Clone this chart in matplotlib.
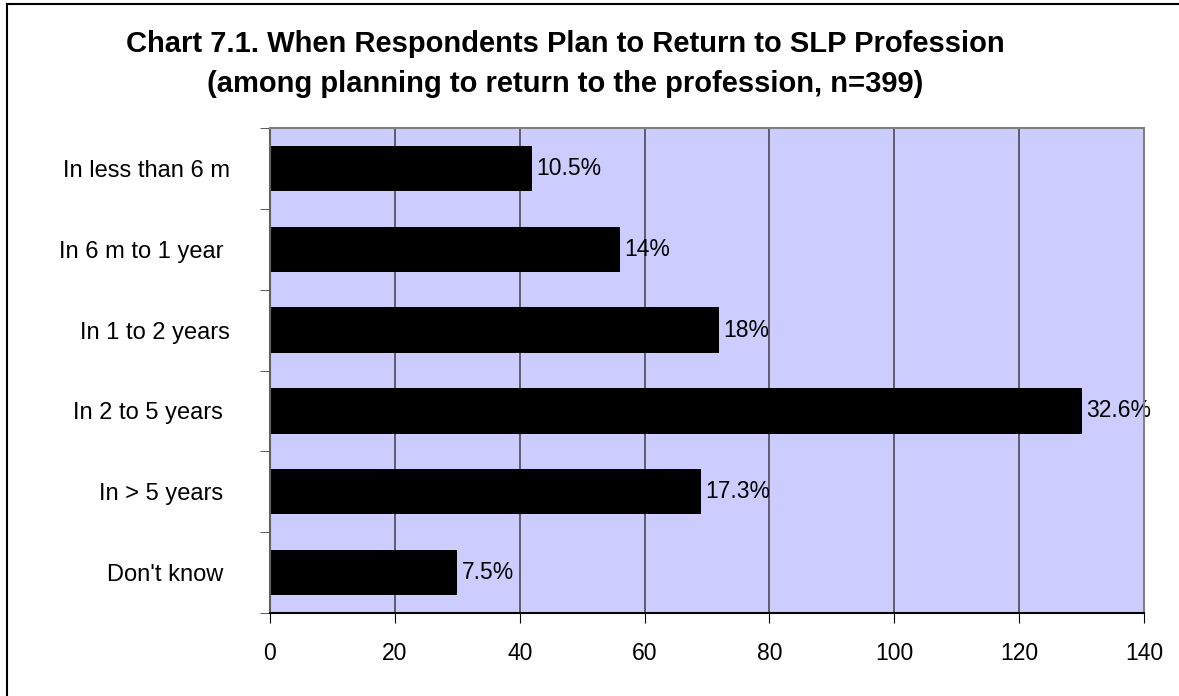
import matplotlib.pyplot as plt
from matplotlib.lines import Line2D

plt.rcParams['font.family'] = ['Liberation Sans', 'DejaVu Sans']

categories = ["In less than 6 m", "In 6 m to 1 year ", "In 1 to 2 years",
              "In 2 to 5 years ", "In > 5 years ", "Don't know "]
counts = [42, 56, 72, 130, 69, 30]
pct_labels = ["10.5%", "14%", "18%", "32.6%", "17.3%", "7.5%"]
xticks = [0, 20, 40, 60, 80, 100, 120, 140]

W, H = 1179, 696
fig = plt.figure(figsize=(W / 100, H / 100), dpi=100)
ax = fig.add_axes([270 / W, (H - 613) / H, (1144 - 270) / W, (613 - 128) / H])
ax.set_facecolor('#ccccff')

ypos = list(range(len(categories)))
ax.barh(ypos, counts, height=0.56, color='black', zorder=3)
for y, c, lab in zip(ypos, counts, pct_labels):
    ax.annotate(lab, (c, y), xytext=(3, 0), textcoords='offset points',
                va='center', ha='left', fontsize=16.5, zorder=4)

ax.set_xlim(0, 140)
ax.set_ylim(len(categories) - 0.5, -0.5)
ax.set_xticks(xticks)
ax.set_xticklabels([str(t) for t in xticks], fontsize=16.5)
ax.set_yticks(ypos)
ax.set_yticklabels(categories, fontsize=17)
ax.set_yticks([i - 0.5 for i in range(len(categories) + 1)], minor=True)
ax.tick_params(axis='y', which='major', length=0, pad=29)
ax.tick_params(axis='y', which='minor', length=7, direction='out', color='#404040')
ax.tick_params(axis='x', length=7, direction='out', pad=14, color='black')

for x in xticks[1:-1]:
    ax.axvline(x, color='#404040', lw=1.1, zorder=2)

ax.spines['top'].set_color('#808080')
ax.spines['right'].set_color('#808080')
ax.spines['left'].set_color('#606060')
ax.spines['bottom'].set_color('black')
for s in ax.spines.values():
    s.set_linewidth(1.5)
    s.set_zorder(5)

fig.text(565 / W, 1 - 52 / H, "Chart 7.1. When Respondents Plan to Return to SLP Profession",
         ha='center', va='baseline', fontsize=21, fontweight='bold')
fig.text(565 / W, 1 - 92 / H, "(among planning to return to the profession, n=399)",
         ha='center', va='baseline', fontsize=21, fontweight='bold')

# outer frame lines along the top and left edges
fig.add_artist(Line2D([7 / W, 1], [1 - 4 / H, 1 - 4 / H], color='black', lw=1.5))
fig.add_artist(Line2D([7 / W, 7 / W], [0, 1 - 4 / H], color='black', lw=1.5))

fig.savefig('out.png', dpi=100)
